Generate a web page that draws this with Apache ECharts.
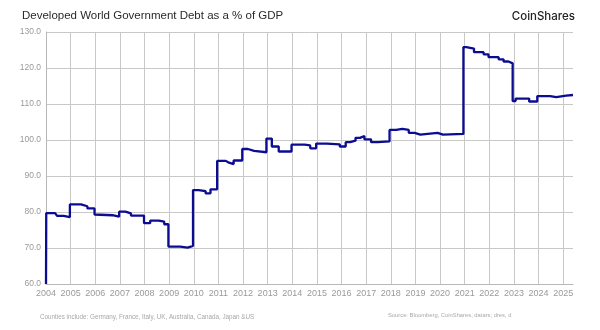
<!DOCTYPE html>
<html>
<head>
<meta charset="utf-8">
<script src="https://cdn.jsdelivr.net/npm/echarts@6/dist/echarts.min.js"></script>
<style>html,body{margin:0;padding:0;background:#fff}#c{width:600px;height:330px}</style>
</head>
<body>
<div id="c"></div>
<script>
var titleText = "Developed World Government Debt as a % of GDP";
var brandText = "CoinShares";
var noteText = "Counties include: Germany, France, Italy, UK, Australia, Canada, Japan &US";
var sourceText = "Source: Bloomberg, CoinShares, datars; dres, d";
var yTickLabels = ["60.0","70.0","80.0","90.0","100.0","110.0","120.0","130.0"];
var xTickLabels = ["2004","2005","2006","2007","2008","2009","2010","2011","2012","2013","2014","2015","2016","2017","2018","2019","2020","2021","2022","2023","2024","2025"];
var years = [2004.00,2004.01,2004.37,2004.45,2004.72,2004.97,2005.42,2005.68,2005.97,2006.05,2006.70,2006.97,2007.22,2007.45,2007.98,2008.23,2008.58,2008.80,2008.97,2009.45,2009.75,2009.97,2010.20,2010.48,2010.68,2010.95,2011.30,2011.40,2011.62,2011.97,2012.20,2012.45,2012.95,2013.17,2013.45,2013.97,2014.50,2014.73,2014.97,2015.40,2015.93,2016.17,2016.35,2016.57,2016.75,2016.93,2017.20,2017.48,2017.95,2018.22,2018.47,2018.73,2018.97,2019.20,2019.90,2020.12,2020.95,2021.07,2021.38,2021.77,2021.97,2022.38,2022.58,2022.78,2022.95,2023.07,2023.62,2023.95,2024.47,2024.72,2025.12,2025.40];
var debtPct = [60.0,79.7,79.4,78.9,78.6,82.1,81.6,81.0,79.3,79.1,78.7,80.1,79.6,79.0,76.9,77.6,77.3,76.6,70.4,70.1,70.6,86.1,85.8,85.2,86.3,94.2,93.8,93.3,94.3,97.5,97.0,96.6,100.4,98.2,96.8,98.7,98.5,97.7,99.0,98.8,98.2,99.4,99.8,100.6,101.1,100.2,99.4,99.6,102.8,103.1,102.8,102.0,101.5,102.0,101.5,101.7,125.8,125.4,124.4,123.8,123.0,122.4,121.8,121.3,110.8,111.5,110.7,112.2,111.9,112.3,112.5,112.5];

var seriesData = years.map(function(y,i){return [y, debtPct[i]];});
var xMin = Number(xTickLabels[0]);
var xMax = 2025.4;
var splitColors = xTickLabels.map(function(){return '#c8c8c8';}).concat(['rgba(0,0,0,0)']);

var chart = echarts.init(document.getElementById('c'), null, {renderer:'canvas'});
chart.setOption({
  animation:false,
  backgroundColor:'#fff',
  title:[
    {text:titleText, left:17, top:5, textStyle:{fontFamily:'Liberation Sans, Arial, sans-serif', fontSize:11.5, fontWeight:'normal', color:'#2a2a2a'}},
    {text:brandText, right:20, top:6, textStyle:{fontFamily:'Inter, Lato, sans-serif', fontSize:11.5, fontWeight:500, color:'#222'}},
    {text:noteText, left:35, top:309, textStyle:{fontFamily:'Liberation Sans, Arial, sans-serif', fontSize:6.3, fontWeight:'normal', color:'#a8a8a8'}},
    {text:sourceText, left:383, top:307, textStyle:{fontFamily:'Liberation Sans, Arial, sans-serif', fontSize:5.8, fontWeight:'normal', color:'#a8a8a8'}}
  ],
  grid:{left:46, right:27, top:32, bottom:46, containLabel:false},
  xAxis:{
    type:'value', min:xMin, max:xMax, interval:1,
    axisLine:{show:true, lineStyle:{color:'#b8b8b8', width:1}},
    axisTick:{show:false},
    splitLine:{show:true, lineStyle:{color:splitColors, width:1}},
    axisLabel:{
      color:'#9a9a9a', fontSize:9, fontFamily:'Liberation Sans, Arial, sans-serif', margin:5,
      showMaxLabel:false,
      formatter:function(v){var r=Math.round(v); if(Math.abs(v-r)>1e-6) return ''; var i=r-xMin; return xTickLabels[i]||'';}
    }
  },
  yAxis:{
    type:'value', min:60, max:130, interval:10,
    axisLine:{show:true, lineStyle:{color:'#b8b8b8', width:1}},
    axisTick:{show:false},
    splitLine:{show:true, lineStyle:{color:'#c8c8c8', width:1}},
    axisLabel:{
      color:'#9a9a9a', fontSize:8.5, fontFamily:'Liberation Sans, Arial, sans-serif', margin:5,
      formatter:function(v){var i=Math.round((v-60)/10); return yTickLabels[i]||'';}
    }
  },
  series:[{
    type:'line', data:seriesData, step:'end', symbol:'none',
    lineStyle:{color:'#0c0c92', width:2.3}
  }]
});
</script>
</body>
</html>
